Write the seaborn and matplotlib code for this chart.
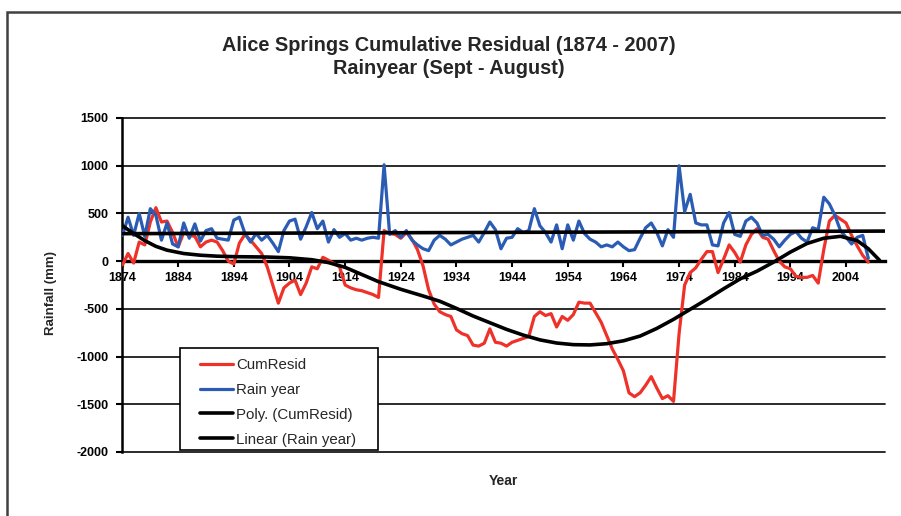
import matplotlib
matplotlib.use('Agg')
import matplotlib.pyplot as plt
from matplotlib.patches import Rectangle
import seaborn as sns
import numpy as np

# Datos (rain year Sept-Aug, Alice Springs)
years = np.arange(1874, 2009)

cum_resid = [
    -40, 80, -20, 200, 170, 410, 560, 410, 420, 300,          # 1874-1883
    150, 300, 270, 260, 150, 200, 220, 200, 110, 0,           # 1884-1893
    -30, 190, 280, 220, 150, 80, -60, -250, -440, -280,       # 1894-1903
    -230, -200, -350, -230, -60, -80, 40, 10, -25, -60,       # 1904-1913
    -250, -280, -300, -310, -330, -350, -380, 320, 290, 280,  # 1914-1923
    240, 300, 230, 120, -50, -300, -450, -530, -560, -580,    # 1924-1933
    -720, -760, -780, -880, -890, -860, -710, -850, -860, -890,  # 1934-1943
    -850, -830, -810, -790, -580, -530, -570, -550, -690, -580,  # 1944-1953
    -620, -560, -430, -440, -440, -540, -640, -780, -920, -1030,  # 1954-1963
    -1150, -1380, -1420, -1380, -1300, -1210, -1330, -1440, -1410, -1470,  # 1964-1973
    -760, -250, -120, -70, 20, 100, 100, -120, 20, 170,       # 1974-1983
    90, -10, 170, 280, 340, 250, 230, 110, 0, -60,            # 1984-1993
    -80, -160, -170, -170, -150, -230, 120, 420, 480, 440,    # 1994-2003
    400, 270, 160, 60, -10,                                   # 2004-2008
]

rain_year = [
    270, 460, 270, 500, 260, 550, 480, 220, 400, 180,   # 1874-1883
    150, 400, 240, 390, 210, 320, 340, 240, 230, 220,   # 1884-1893
    430, 460, 290, 200, 290, 220, 270, 190, 100, 320,   # 1894-1903
    420, 440, 230, 360, 510, 340, 420, 200, 330, 250,   # 1904-1913
    290, 220, 240, 220, 240, 250, 240, 1010, 280, 320,  # 1914-1923
    250, 320, 220, 170, 130, 110, 220, 270, 230, 170,   # 1924-1933
    200, 230, 250, 270, 200, 300, 410, 330, 130, 240,   # 1934-1943
    250, 340, 300, 320, 550, 370, 300, 200, 380, 130,   # 1944-1953
    380, 220, 420, 290, 230, 200, 150, 170, 150, 200,   # 1954-1963
    150, 110, 120, 240, 350, 400, 300, 160, 330, 250,   # 1964-1973
    1000, 520, 700, 400, 380, 380, 170, 160, 400, 510,  # 1974-1983
    280, 260, 420, 460, 400, 270, 280, 230, 150, 220,   # 1984-1993
    280, 310, 240, 200, 350, 330, 670, 600, 480, 320,   # 1994-2003
    250, 180, 250, 270, 30,                             # 2004-2008
]

# Lineas de tendencia
poly_years = [1874, 1876, 1878, 1880, 1882, 1885, 1888, 1891, 1894, 1897,
              1900, 1904, 1908, 1911, 1914, 1917, 1920, 1924, 1928, 1931,
              1934, 1937, 1940, 1943, 1946, 1949, 1952, 1955, 1958, 1961,
              1964, 1967, 1970, 1973, 1976, 1979, 1982, 1985, 1988, 1991,
              1994, 1997, 2000, 2003, 2006, 2008, 2010]
poly_cum_resid = [370, 290, 215, 155, 115, 80, 62, 52, 47, 45,
                  43, 35, 15, -15, -65, -140, -215, -295, -365, -420,
                  -495, -575, -645, -715, -775, -825, -858, -875, -878, -865,
                  -835, -785, -705, -610, -505, -400, -290, -185, -105, -10,
                  95, 185, 240, 260, 215, 130, 10]
linear_years = [1874, 2011]
linear_rain = [288, 315]

y_ticks = [1500, 1000, 500, 0, -500, -1000, -1500, -2000]
x_tick_years = list(range(1874, 2005, 10))

color_cum = '#ee3229'
color_rain = '#2b5cb4'

sns.set_style('white')
plt.rcParams['font.family'] = ['Liberation Sans', 'DejaVu Sans']
plt.rcParams['axes.unicode_minus'] = False

fig = plt.figure(figsize=(9.01, 5.16), dpi=100)
ax = fig.add_axes([122.5 / 901, 1 - 452 / 516, 762.5 / 901, 334 / 516])

# Lineas horizontales de la rejilla
for v in y_ticks:
    if v != 0:
        ax.axhline(v, color='#1a1a1a', lw=1.3, zorder=1, clip_on=False)

sns.lineplot(x=years, y=cum_resid, ax=ax, color=color_cum, lw=2.3,
             label='CumResid', zorder=3, legend=False)
sns.lineplot(x=years, y=rain_year, ax=ax, color=color_rain, lw=2.3,
             label='Rain year', zorder=3, legend=False)
sns.lineplot(x=poly_years, y=poly_cum_resid, ax=ax, color='black', lw=2.6,
             label='Poly. (CumResid)', zorder=4, legend=False)
sns.lineplot(x=linear_years, y=linear_rain, ax=ax, color='black', lw=2.6,
             label='Linear (Rain year)', zorder=4, legend=False)

ax.set_xlim(1874, 2011)
ax.set_ylim(-2000, 1500)
ax.set_yticks(y_ticks)
ax.set_xticks(x_tick_years)

# Ejes estilo Excel: eje x cruzando en 0
for s in ['top', 'right']:
    ax.spines[s].set_visible(False)
ax.spines['left'].set_color('black')
ax.spines['left'].set_linewidth(1.8)
ax.spines['bottom'].set_position(('data', 0))
ax.spines['bottom'].set_color('black')
ax.spines['bottom'].set_linewidth(2.4)
ax.spines['bottom'].set_zorder(2)

ax.tick_params(axis='y', left=True, direction='out', length=4, width=1.5,
               pad=6, labelsize=9, colors='black')
ax.tick_params(axis='x', bottom=True, direction='out', length=4, width=1.5,
               pad=4, labelsize=9, colors='black')
for lbl in ax.get_xticklabels() + ax.get_yticklabels():
    lbl.set_fontweight('bold')

ax.set_ylabel('Rainfall (mm)', fontsize=9.5, fontweight='bold')
ax.yaxis.set_label_coords((56 - 122) / 763, (452 - 293) / 334)
ax.set_xlabel('Year', fontsize=10, fontweight='bold')
ax.xaxis.set_label_coords(0.5, -0.066)

# Leyenda con marco propio
frame = Rectangle((0.076, 0.006), 0.2595, 0.305, transform=ax.transAxes,
                  facecolor='white', edgecolor='black', lw=1.2, zorder=5)
ax.add_patch(frame)
leg = ax.legend(loc='upper left', bbox_to_anchor=(0.102, 0.281),
                frameon=False, fontsize=10.8, borderpad=0, borderaxespad=0,
                handlelength=2.2, handletextpad=0.2, labelspacing=0.72)
leg.set_zorder(6)

fig.text(0.498, 1 - 57 / 516,
         'Alice Springs Cumulative Residual (1874 - 2007)\nRainyear (Sept - August)',
         ha='center', va='center', fontsize=14.3, fontweight='bold',
         linespacing=1.3)

# Marco exterior del grafico
fig.add_artist(Rectangle((7 / 901, -0.1), 1.0, 1.1 - 12 / 516,
                         transform=fig.transFigure, fill=False,
                         edgecolor='#404040', lw=1.8))

fig.savefig('out.png', dpi=100)
